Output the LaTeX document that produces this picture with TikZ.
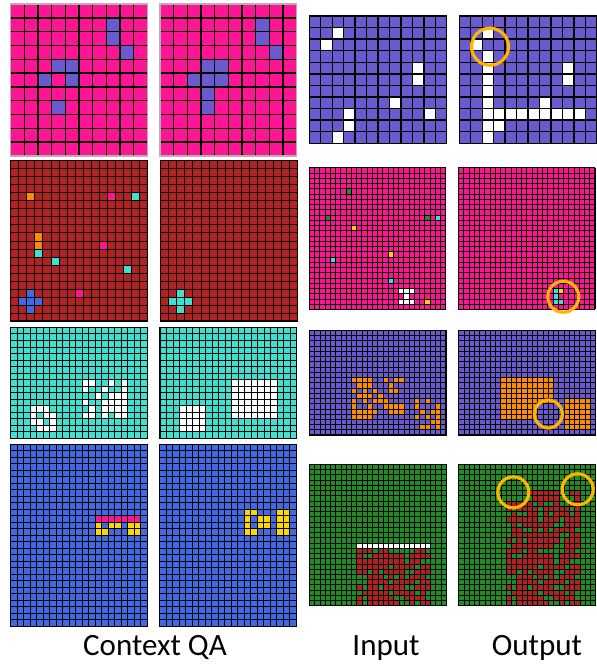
\documentclass[tikz,border=0pt]{standalone}
\usepackage{fontspec}
\setmainfont{Carlito}
\definecolor{arcpink}{RGB}{255,20,147}
\definecolor{arcviolet}{RGB}{106,90,205}
\definecolor{arcred}{RGB}{178,34,34}
\definecolor{arcorange}{RGB}{255,140,0}
\definecolor{arccyan}{RGB}{64,224,208}
\definecolor{arcblue}{RGB}{65,105,225}
\definecolor{arcyellow}{RGB}{255,215,0}
\definecolor{arcgreen}{RGB}{34,139,34}
\definecolor{ringgold}{RGB}{255,181,0}

% fill a list of cells col/row
\newcommand{\paintcells}[2]{\foreach \cx/\ry in {#2} {\fill[#1] (\cx,\ry) rectangle ++(1,1);}}
% grid lines and frame of a board
\newcommand{\gridlines}[2]{%
  \foreach \i in {0,...,#1} {\draw[gridline] (\i,0) -- (\i,#2);}
  \foreach \j in {0,...,#2} {\draw[gridline] (0,\j) -- (#1,\j);}
  \draw[frame] (0,0) rectangle (#1,#2);}
% random cells in a block
\newcommand{\speckle}[4]{%
  \foreach \ry in {#3} {\foreach \cx in {#2} {%
    \pgfmathtruncatemacro{\hit}{rnd<#4}%
    \ifnum\hit=1 \fill[#1] (\cx,\ry) rectangle ++(1,1);\fi}}}

\begin{document}
\begin{tikzpicture}[x=1pt, y=-1pt,
    gridline/.style={black, line width=0.7pt},
    frame/.style={black, line width=1.2pt},
    ring/.style={ringgold, line width=3.2pt},
    lab/.style={anchor=base, inner sep=0pt, font=\fontsize{31}{36}\selectfont}]
    \useasboundingbox (0,0) rectangle (597,665);

    % Row 1 (pink context pair)
    \begin{scope}[shift={(10.7,4)}, x=13.67pt, y=-13.82pt, gridline/.append style={line width=1.5pt}, frame/.style={gray!60, line width=1.5pt}]
        \fill[arcpink] (0,0) rectangle (10,11);
        \paintcells{arcviolet}{7/1,7/2,8/3,3/4,4/4,2/5,4/5,3/7}
        \gridlines{10}{11}
    \end{scope}
    \begin{scope}[shift={(160,4)}, x=13.67pt, y=-13.82pt, gridline/.append style={line width=1.5pt}, frame/.style={gray!60, line width=1.5pt}]
        \fill[arcpink] (0,0) rectangle (10,11);
        \paintcells{arcviolet}{7/1,7/2,8/3,3/4,4/4,2/5,3/5,4/5,3/6,3/7}
        \gridlines{10}{11}
    \end{scope}

    % Row 1 (violet input / output)
    \begin{scope}[shift={(309.3,16)}, x=11.45pt, y=-11.57pt, gridline/.append style={line width=1.4pt}]
        \fill[arcviolet] (0,0) rectangle (12,11);
        \paintcells{white}{2/1,1/2,9/4,9/5,7/7,3/8,10/8,3/9,2/10}
        \gridlines{12}{11}
    \end{scope}
    \begin{scope}[shift={(459.3,16)}, x=11.45pt, y=-11.57pt, gridline/.append style={line width=1.4pt}]
        \fill[arcviolet] (0,0) rectangle (12,11);
        \paintcells{white}{2/1,1/2,9/4,9/5,7/7,3/9}
        \fill[white] (2,3) rectangle (3,11);
        \fill[white] (3,8) rectangle (11,9);
        \gridlines{12}{11}
    \end{scope}
    \draw[ring] (490,46.7) circle (18.5pt);

    % Row 2 (red context pair)
    \begin{scope}[shift={(10.7,160.7)}, x=8.035pt, y=-8.015pt]
        \fill[arcred] (0,0) rectangle (17,20);
        \paintcells{arcorange}{2/4,3/9,3/10}
        \paintcells{arcpink}{12/4,11/10,8/16}
        \paintcells{arccyan}{15/4,3/11,5/12,14/13}
        \paintcells{arcblue}{2/16,1/17,2/17,3/17,2/18}
        \gridlines{17}{20}
    \end{scope}
    \begin{scope}[shift={(160.7,160.7)}, x=8.035pt, y=-8.015pt]
        \fill[arcred] (0,0) rectangle (17,20);
        \paintcells{arccyan}{2/16,1/17,2/17,3/17,2/18}
        \gridlines{17}{20}
    \end{scope}

    % Row 2 (pink input / output)
    \begin{scope}[shift={(309.3,167.7)}, x=5.246pt, y=-5.244pt, gridline/.append style={line width=0.6pt}]
        \fill[arcpink] (0,0) rectangle (26,27);
        \paintcells{arcgreen}{7/4,3/9,22/9}
        \paintcells{arccyan}{24/9,4/17,15/21}
        \paintcells{arcyellow}{8/11,15/16,22/25}
        \paintcells{white}{17/23,18/23,19/23,18/24,17/25,18/25,19/25}
        \gridlines{26}{27}
    \end{scope}
    \begin{scope}[shift={(458.5,167.7)}, x=5.246pt, y=-5.244pt, gridline/.append style={line width=0.6pt}]
        \fill[arcpink] (0,0) rectangle (26,27);
        \paintcells{arccyan}{18/23,18/24,18/25,19/25}
        \paintcells{arcyellow}{19/23}
        \gridlines{26}{27}
    \end{scope}
    \draw[ring] (563.3,296.7) circle (15.5pt);

    % Row 3 (turquoise context pair)
    \begin{scope}[shift={(10.7,327.3)}, x=6.505pt, y=-6.53pt]
        \fill[arccyan] (0,0) rectangle (21,17);
        \paintcells{white}{3/12,4/12,5/12,3/13,5/13,6/13,3/14,4/14,6/14,4/15,5/15,6/15}
        \paintcells{white}{11/8,12/8,15/8,17/8,11/9,14/9,17/9,13/10,15/10,16/10,17/10,
            11/11,14/11,15/11,16/11,17/11,12/12,14/12,15/12,16/12,17/12,11/13,12/13,14/13,16/13,17/13}
        \gridlines{21}{17}
    \end{scope}
    \begin{scope}[shift={(160,327.3)}, x=6.505pt, y=-6.53pt]
        \fill[arccyan] (0,0) rectangle (21,17);
        \fill[white] (3,12) rectangle (7,16);
        \fill[white] (11,8) rectangle (18,14);
        \gridlines{21}{17}
    \end{scope}

    % Row 3 (violet input / output)
    \begin{scope}[shift={(309.3,330.3)}, x=5.258pt, y=-5.235pt, gridline/.append style={line width=0.6pt}]
        \fill[arcviolet] (0,0) rectangle (26,20);
        \paintcells{arcorange}{8/9,9/9,10/9,11/9,14/9,16/9,17/9,9/10,10/10,11/10,15/10,
            8/11,10/11,12/11,15/11,16/11,9/12,10/12,11/12,13/12,
            8/13,10/13,12/13,13/13,14/13,20/13,22/13,
            8/14,11/14,14/14,15/14,16/14,17/14,20/14,24/14,
            8/15,9/15,10/15,11/15,12/15,15/15,16/15,17/15,21/15,23/15,24/15,
            8/16,9/16,10/16,11/16,20/16,22/16,24/16,23/17,24/17,21/18,22/18,24/18}
        \gridlines{26}{20}
    \end{scope}
    \begin{scope}[shift={(458.7,330.3)}, x=5.258pt, y=-5.235pt, gridline/.append style={line width=0.6pt}]
        \fill[arcviolet] (0,0) rectangle (26,20);
        \fill[arcorange] (8,9) rectangle (18,14);
        \fill[arcorange] (8,14) rectangle (15,17);
        \fill[arcorange] (20,13) rectangle (25,19);
        \gridlines{26}{20}
    \end{scope}
    \draw[ring] (548.3,414) circle (14pt);

    % Row 4 (blue context pair)
    \begin{scope}[shift={(10.7,444.3)}, x=6.505pt, y=-6.5pt]
        \fill[arcblue] (0,0) rectangle (21,28);
        \fill[arcpink] (13,11) rectangle (20,12);
        \paintcells{arcyellow}{13/12,15/12,16/12,18/12,19/12,13/13,14/13,18/13,19/13}
        \gridlines{21}{28}
    \end{scope}
    \begin{scope}[shift={(159.5,444.3)}, x=6.505pt, y=-6.5pt]
        \fill[arcblue] (0,0) rectangle (21,28);
        \paintcells{arcyellow}{13/10,14/10,18/10,19/10,13/11,15/11,16/11,18/11,19/11,
            13/12,15/12,16/12,18/12,19/12,13/13,14/13,18/13,19/13}
        \gridlines{21}{28}
    \end{scope}

    % Row 4 (green input / output)
    \begin{scope}[shift={(309.3,464.3)}, x=5.27pt, y=-5.237pt, gridline/.append style={line width=0.6pt}]
        \fill[arcgreen] (0,0) rectangle (26,27);
        \fill[white] (9,15) rectangle (23,16);
        \pgfmathsetseed{42}
        \speckle{arcred}{9,...,22}{16,...,26}{0.66}
        \gridlines{26}{27}
    \end{scope}
    \begin{scope}[shift={(458.7,464.3)}, x=5.27pt, y=-5.237pt, gridline/.append style={line width=0.6pt}]
        \fill[arcgreen] (0,0) rectangle (26,27);
        \pgfmathsetseed{42}
        \speckle{arcred}{9,...,22}{16,...,26}{0.66}
        \speckle{arcred}{9,...,22}{7,...,15}{0.7}
        \speckle{arcred}{13,...,22}{5,6}{0.55}
        \gridlines{26}{27}
    \end{scope}
    \draw[ring] (513.3,492.3) circle (15.5pt);
    \draw[ring] (577.7,489.3) circle (15.5pt);

    % Column labels
    \node[lab] (ctxlbl) at (155,655) {Context QA};
    \node[lab] (inlbl) at (386,655) {Input};
    \node[lab] (outlbl) at (537,655) {Output};
\end{tikzpicture}
\end{document}
